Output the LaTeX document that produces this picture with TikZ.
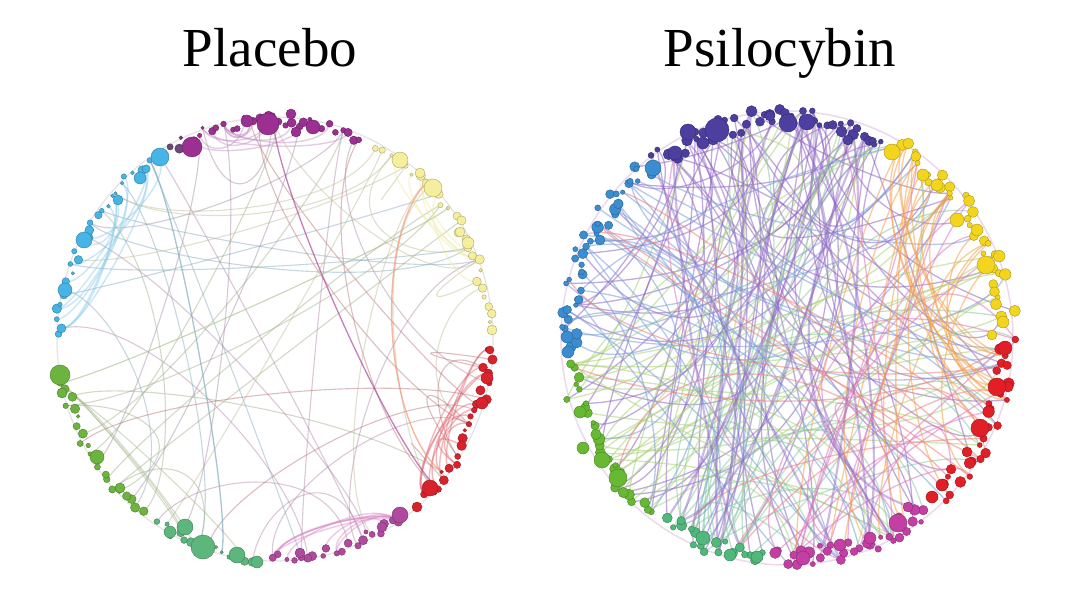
\documentclass[tikz,border=0pt]{standalone}
\usepackage{fontspec}
\setmainfont{Liberation Serif}
\usetikzlibrary{calc}
\newcount\nidx
% left colours
\definecolor{lpurple}{HTML}{9B2F92}
\definecolor{lyellow}{HTML}{F5EE9C}
\definecolor{lred}{HTML}{D8222C}
\definecolor{lmag}{HTML}{B04A9E}
\definecolor{lteal}{HTML}{5DB67C}
\definecolor{lgreen}{HTML}{6DB43F}
\definecolor{lcyan}{HTML}{46B5E5}
\definecolor{ldark}{HTML}{6A4B78}
\definecolor{epurple}{HTML}{C58FC6}
\definecolor{eyellow}{HTML}{EFEAA0}
\definecolor{ered}{HTML}{E2606C}
\definecolor{emag}{HTML}{D988C6}
\definecolor{eteal}{HTML}{86C7AE}
\definecolor{egreen}{HTML}{B5D38A}
\definecolor{ecyan}{HTML}{86C9EA}
% right colours
\definecolor{rviolet}{HTML}{4D3F9F}
\definecolor{ryellow}{HTML}{F4D51E}
\definecolor{rred}{HTML}{E21F27}
\definecolor{rmag}{HTML}{C43FA3}
\definecolor{rteal}{HTML}{4FB87A}
\definecolor{rgreen}{HTML}{67B934}
\definecolor{rblue}{HTML}{3A8DD1}
\definecolor{fviolet}{HTML}{9065C4}
\definecolor{fyellow}{HTML}{F4A04C}
\definecolor{fred}{HTML}{EE8080}
\definecolor{fmag}{HTML}{DD78C0}
\definecolor{fteal}{HTML}{8BCBA6}
\definecolor{fgreen}{HTML}{ADD27A}
\definecolor{fblue}{HTML}{7A9EDA}

\newcommand\makering[6]{%
  \global\nidx=0
  \coordinate (#1c) at (#2,#3);
  \foreach \ga/\gb/\gn/\nc/\ecc in {#6}{%
    \foreach \j in {1,...,\gn}{%
      \global\advance\nidx by 1
      \pgfmathsetmacro\th{\ga+(\gb-\ga)*(\j-0.5)/\gn+\angjit*rand}%
      \pgfmathsetmacro\rr{1+\radjit*rand}%
      \pgfmathsetmacro\sz{\szmin+\szvar*rnd}%
      \coordinate (#1\the\nidx) at ({#2+#4*\rr*cos(\th)},{#3-#5*\rr*sin(\th)});
      \expandafter\xdef\csname #1col\the\nidx\endcsname{\nc}%
      \expandafter\xdef\csname #1ecol\the\nidx\endcsname{\ecc}%
      \expandafter\xdef\csname #1sz\the\nidx\endcsname{\sz}%
    }%
  }%
  \expandafter\xdef\csname #1n\endcsname{\the\nidx}%
}

% edges bow towards a random point Q near the centre
\newcommand\edgeset[9]{%
  \foreach \e in {1,...,#2}{%
    \pgfmathrandominteger{\sA}{#3}{#4}%
    \pgfmathrandominteger{\sB}{#5}{#6}%
    \edef\ecol{\csname #1ecol\sA\endcsname}%
    \pgfmathsetmacro\ka{#7*(0.6+0.8*rnd)}%
    \pgfmathsetmacro\kb{#7*(0.6+0.8*rnd)}%
    \pgfmathsetmacro\qx{\qoff*rand}%
    \pgfmathsetmacro\qy{\qoff*rand}%
    \coordinate (Q) at ($(#1c)+(\qx,\qy)$);
    \draw[#8, draw=\ecol#9] (#1\sA) .. controls ($(#1\sA)!\ka!(Q)$) and ($(#1\sB)!\kb!(Q)$) .. (#1\sB);
  }%
}

\newcommand\arcedge[5]{%
  \draw[#5] (#1#2) .. controls ($(#1#2)!#4!(#1c)$) and ($(#1#3)!#4!(#1c)$) .. (#1#3);
}

\newcommand\drawring[1]{%
  \edef\nmax{\csname #1n\endcsname}%
  \foreach \i in {1,...,\nmax}{%
    \edef\nc{\csname #1col\i\endcsname}%
    \edef\s{\csname #1sz\i\endcsname}%
    \node[dot, fill=\nc, draw=\nc!70!black, minimum size={2*\s}] (#1d\i) at (#1\i) {};
  }%
}

\begin{document}
\begin{tikzpicture}[x=1pt,y=-1pt,
  dot/.style={circle,inner sep=0pt,line width=0.4pt},
  ledge/.style={line width=1.1pt,opacity=0.45},
  lbundle/.style={line width=1.4pt,opacity=0.45},
  redge/.style={line width=1.3pt,opacity=0.55},
  rbundle/.style={line width=2.2pt,opacity=0.45},
  title/.style={font=\fontsize{55}{60}\selectfont, anchor=base, inner sep=0pt}]
\useasboundingbox (0,0) rectangle (1076,604);
\fill[white] (0,0) rectangle (1076,604);
\pgfmathsetseed{4711}

\node[title] (tp) at (270,67) {Placebo};
\node[title] (ts) at (780,67) {Psilocybin};

% ---------------- left ring (Placebo)
\def\angjit{0.6}\def\radjit{0.025}\def\szmin{1.6}\def\szvar{3.2}
\makering{L}{275}{339}{215}{219}{113/66/28/lpurple/epurple, 63/3/26/lyellow/eyellow, -2/-47/22/lred/ered, -54/-92/20/lmag/emag, -95/-124/14/lteal/eteal, 233/188/22/lgreen/egreen, 180/122/28/lcyan/ecyan, 120/115/3/ldark/epurple}

\draw[gray!22, line width=1.2pt] (Lc) ellipse [x radius=218, y radius=222];

\def\qoff{70}
\edgeset{L}{50}{1}{160}{1}{160}{0.3}{ledge}{!55!gray}
\def\qoff{0}
\edgeset{L}{10}{150}{160}{133}{148}{0.12}{lbundle}{}
\edgeset{L}{10}{1}{6}{8}{28}{0.1}{lbundle}{}
\edgeset{L}{10}{70}{76}{55}{68}{0.12}{lbundle}{}
\edgeset{L}{8}{77}{80}{84}{96}{0.1}{lbundle}{}
\edgeset{L}{4}{128}{132}{97}{108}{0.06}{ledge}{!60!gray}
\edgeset{L}{5}{30}{40}{45}{54}{0.1}{lbundle}{}

\arcedge{L}{14}{74}{0.3}{line width=1.3pt, draw=lmag, opacity=0.7}
\arcedge{L}{159}{101}{0.2}{line width=1.3pt, draw=ecyan!60!gray, opacity=0.7}
\arcedge{L}{36}{72}{0.35}{line width=1.4pt, draw=ered!60!orange!70!white, opacity=0.7}
\arcedge{L}{131}{40}{0.25}{line width=1.1pt, draw=egreen!70!gray, opacity=0.6}

\drawring{L}

\foreach \x/\y/\r/\c [count=\q] in {192/147/10/lpurple, 268/124/11/lpurple, 247/121/6/lpurple, 291/114/5/lpurple, 296/132/5/lpurple, 313/127/7/lpurple,
160/157/9/lcyan, 84/240/8/lcyan, 65/290/7/lcyan, 140/178/6/lcyan, 118/200/5/lcyan,
400/160/8/lyellow, 433/188/9/lyellow, 420/173/5/lyellow, 468/243/6/lyellow, 460/232/5/lyellow, 492/330/5/lyellow,
430/488/8/lred, 487/378/6/lred, 482/403/6/lred, 417/507/5/lred, 490/350/4/lred,
400/515/8/lmag, 382/527/5/lmag, 300/553/5/lmag,
203/547/12/lteal, 185/527/8/lteal, 237/555/8/lteal, 257/562/6/lteal, 170/532/6/lteal,
60/375/10/lgreen, 97/457/7/lgreen, 120/488/5/lgreen, 62/393/5/lgreen}
  \node[dot, fill=\c, draw=\c!70!black, minimum size={2*\r}] (LB\q) at (\x,\y) {};

% ---------------- right ring (Psilocybin)
\def\angjit{0.8}\def\radjit{0.045}\def\szmin{2.2}\def\szvar{3.6}
\makering{R}{787}{338}{220}{220}{127/63/45/rviolet/fviolet, 60/5/34/ryellow/fyellow, 1/-47/30/rred/fred, -51/-94/30/rmag/fmag, -96/-124/18/rteal/fteal, 233/186/26/rgreen/fgreen, 183/129/40/rblue/fblue}

\draw[violet!15, line width=1.5pt] (Rc) ellipse [x radius=226, y radius=227];

\def\qoff{180}
\edgeset{R}{62}{1}{45}{46}{223}{0.5}{redge}{}
\edgeset{R}{55}{140}{183}{1}{139}{0.48}{redge}{}
\edgeset{R}{28}{184}{223}{46}{183}{0.48}{redge}{}
\edgeset{R}{10}{80}{109}{140}{223}{0.45}{redge}{}
\edgeset{R}{16}{110}{139}{1}{109}{0.45}{redge}{}
\def\qoff{70}
\edgeset{R}{22}{46}{70}{80}{139}{0.32}{redge}{}
\def\qoff{150}
\edgeset{R}{12}{1}{45}{110}{157}{0.5}{rbundle}{}

\drawring{R}

\foreach \x/\y/\r/\c [count=\q] in {717/130/12/rviolet, 688/132/8/rviolet, 788/123/9/rviolet, 807/122/8/rviolet, 675/153/7/rviolet, 703/143/6/rviolet, 770/116/5/rviolet, 848/140/5/rviolet,
653/168/8/rblue, 567/337/6/rblue, 568/352/6/rblue, 600/240/5/rblue,
602/460/8/rgreen, 618/478/9/rgreen, 583/448/6/rgreen, 580/412/6/rgreen,
703/538/7/rteal, 730/555/6/rteal, 757/557/6/rteal,
898/523/9/rmag, 803/558/7/rmag, 840/545/6/rmag, 870/538/6/rmag, 908/507/5/rmag,
1005/348/7/rred, 997/387/9/rred, 980/428/9/rred, 942/485/6/rred, 967/452/5/rred, 932/497/6/rred,
892/152/8/ryellow, 986/265/9/ryellow, 957/220/7/ryellow, 977/230/6/ryellow, 923/175/6/ryellow, 937/185/6/ryellow, 1003/322/6/ryellow, 992/335/5/ryellow}
  \node[dot, fill=\c, draw=\c!70!black, minimum size={2*\r}] (RB\q) at (\x,\y) {};
\end{tikzpicture}
\end{document}
